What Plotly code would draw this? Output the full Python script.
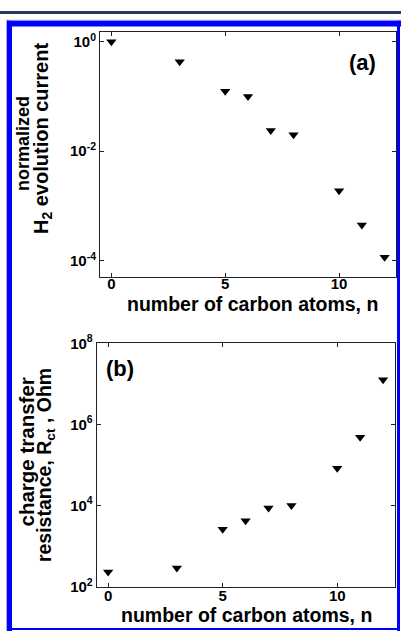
import plotly.graph_objects as go

# ---- data ----
n_carbon = [0, 3, 5, 6, 7, 8, 10, 11, 12]
h2_current = [1.0, 0.43, 0.125, 0.10, 0.024, 0.020, 0.0019, 0.00045, 0.000115]
r_ct = [230, 290, 2600, 4200, 8700, 10000, 83000, 480000, 12600000]

x_ticks = [0, 5, 10]
ya_tickvals = [1, 1e-2, 1e-4]
ya_ticktext = ["10<sup>0</sup>", "10<sup>-2</sup>", "10<sup>-4</sup>"]
yb_tickvals = [1e2, 1e4, 1e6, 1e8]
yb_ticktext = ["10<sup>2</sup>", "10<sup>4</sup>", "10<sup>6</sup>", "10<sup>8</sup>"]

x_title = "number of carbon atoms, n"
ya_title = ["normalized", "H<sub>2</sub> evolution current"]
yb_title = ["charge transfer", "resistance, R<sub>ct</sub> , Ohm"]

W, H = 401, 639
def px(x):
    return x / W
def py(y):
    return 1 - y / H

FONT = "Liberation Sans, Arial, sans-serif"

fig = go.Figure()
mk = dict(symbol="triangle-down", size=9, color="black", line=dict(width=0))
fig.add_trace(go.Scatter(x=n_carbon, y=h2_current, mode="markers", marker=mk,
                         xaxis="x", yaxis="y", showlegend=False))
fig.add_trace(go.Scatter(x=n_carbon, y=r_ct, mode="markers", marker=mk,
                         xaxis="x2", yaxis="y2", showlegend=False))

axcommon = dict(showline=True, linecolor="#222", linewidth=1, mirror="ticks",
                ticks="inside", ticklen=4, tickcolor="#222", showgrid=False,
                zeroline=False, tickfont=dict(family=FONT, size=15, color="black", weight="bold"))

fig.update_layout(
    width=W, height=H, margin=dict(l=0, r=0, t=0, b=0),
    paper_bgcolor="white", plot_bgcolor="white",
    xaxis=dict(domain=[px(100), px(396)], range=[-0.5, 12.5], tickvals=x_ticks,
               anchor="y", ticklabelstandoff=-7, **axcommon),
    yaxis=dict(domain=[py(274.5), py(21.7)], type="log", range=[-4.304, 0.177],
               tickvals=ya_tickvals, ticktext=ya_ticktext, anchor="x", **axcommon),
    xaxis2=dict(domain=[px(96.7), px(394.5)], range=[-0.5, 12.5], tickvals=x_ticks,
                anchor="y2", ticklabelstandoff=-5, **axcommon),
    yaxis2=dict(domain=[py(593.3), py(342.5)], type="log", range=[2, 8],
                tickvals=yb_tickvals, ticktext=yb_ticktext, anchor="x2", **axcommon),
)

def tf(size):
    return dict(family=FONT, size=size, color="black", weight="bold")

ann = []
ann.append(dict(text=x_title, x=px(252), y=py(302), xref="paper", yref="paper",
                showarrow=False, xanchor="center", yanchor="middle", font=tf(19.5)))
ann.append(dict(text=x_title, x=px(246), y=py(623), xref="paper", yref="paper",
                showarrow=False, xanchor="center", yanchor="middle", font=tf(19.5)))
ann.append(dict(text=ya_title[0], x=px(23), y=py(137), xref="paper", yref="paper",
                showarrow=False, textangle=-90, xanchor="center", yanchor="middle", font=tf(18)))
ann.append(dict(text=ya_title[1], x=px(42), y=py(132), xref="paper", yref="paper",
                showarrow=False, textangle=-90, xanchor="center", yanchor="middle", font=tf(20)))
ann.append(dict(text=yb_title[0], x=px(26), y=py(455), xref="paper", yref="paper",
                showarrow=False, textangle=-90, xanchor="center", yanchor="middle", font=tf(20.5)))
ann.append(dict(text=yb_title[1], x=px(45), y=py(468), xref="paper", yref="paper",
                showarrow=False, textangle=-90, xanchor="center", yanchor="middle", font=tf(19.5)))
ann.append(dict(text="(a)", x=px(362), y=py(53), xref="paper", yref="paper",
                showarrow=False, xanchor="center", yanchor="middle", font=tf(22)))
ann.append(dict(text="(b)", x=px(120), y=py(368), xref="paper", yref="paper",
                showarrow=False, xanchor="center", yanchor="middle", font=tf(22)))
fig.update_layout(annotations=ann)

# frame decoration (screenshot border)
shapes = []
def rect(x0, y0, x1, y1, color):
    return dict(type="rect", xref="paper", yref="paper", x0=px(x0), x1=px(x1),
                y0=py(y1), y1=py(y0), fillcolor=color, line=dict(width=0), layer="above")
shapes.append(rect(0, 0, 401, 3, "#2b3566"))
shapes.append(rect(6, 9, 401, 10, "#a8b0e0"))
shapes.append(rect(6, 9, 7, 639, "#a8b0e0"))
shapes.append(rect(7, 10, 401, 16, "#0000ff"))
shapes.append(rect(7, 10, 12, 639, "#0000ff"))
shapes.append(rect(397, 10, 400, 639, "#0000ff"))
shapes.append(rect(7, 636, 400, 638, "#0000ff"))
fig.update_layout(shapes=shapes)

fig.write_html("out.html", config={"displayModeBar": False},
               post_script="document.body.style.margin='0';document.body.style.overflow='hidden';")
